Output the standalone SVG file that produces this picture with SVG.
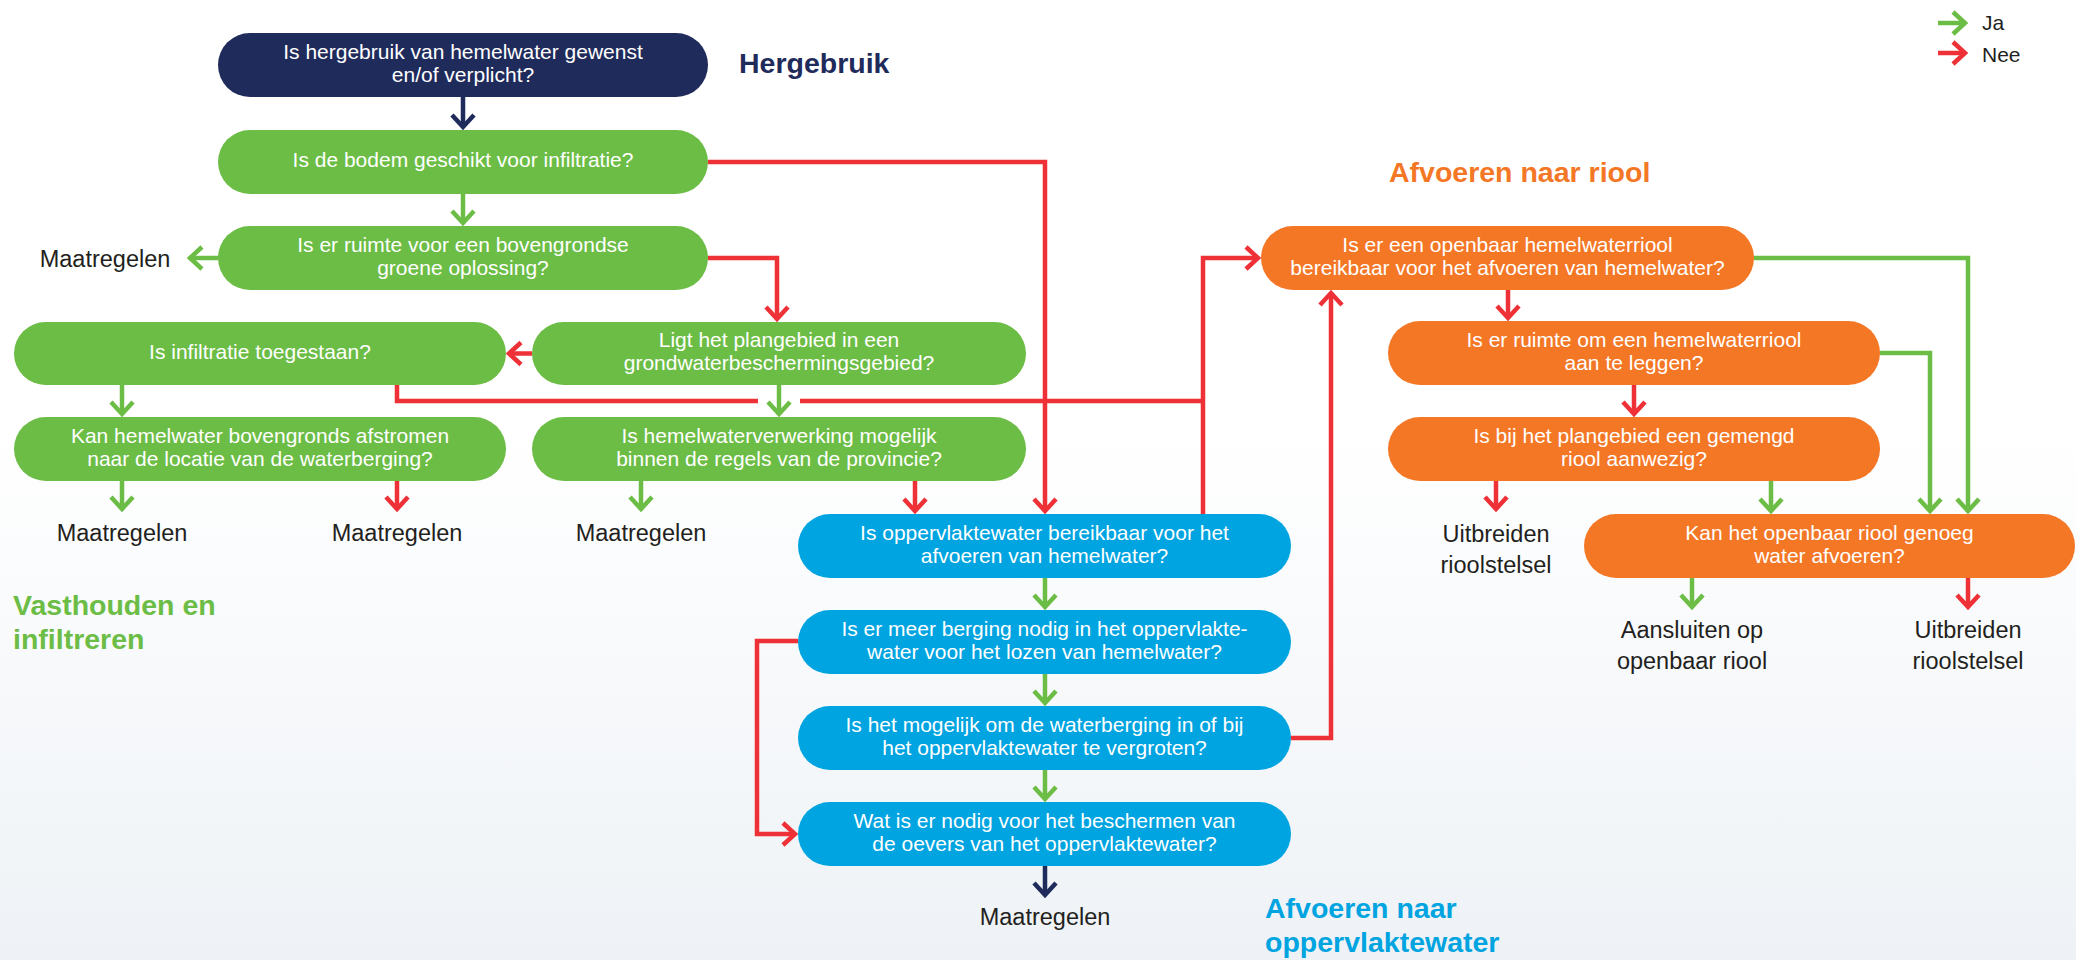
<svg xmlns="http://www.w3.org/2000/svg" width="2076" height="960" viewBox="0 0 2076 960">
<defs>
<style>
.nt{font-family:"Liberation Sans",Arial,sans-serif;font-size:21px;fill:#ffffff;text-anchor:middle}
.lbl{font-family:"Liberation Sans",Arial,sans-serif;font-size:23.5px;fill:#231F20;text-anchor:middle}
.ttl{font-family:"Liberation Sans",Arial,sans-serif;font-size:28.5px;font-weight:bold}
.c{fill:none;stroke-width:4.5;stroke-linejoin:miter}
.g{stroke:#6CBD45}
.r{stroke:#EE3137}
.n{stroke:#1F2B5B}
.fg{fill:#6CBD45}
.fn{fill:#1F2B5B}
.fb{fill:#00A4E0}
.fo{fill:#F47726}
</style>
<linearGradient id="bg" x1="0" y1="0" x2="0" y2="1">
<stop offset="0" stop-color="#ffffff"/>
<stop offset="0.45" stop-color="#ffffff"/>
<stop offset="1" stop-color="#eef2f6"/>
</linearGradient>
<marker id="ag" markerUnits="userSpaceOnUse" viewBox="-20 -20 40 40" markerWidth="40" markerHeight="40" refX="0" refY="0" orient="auto"><path d="M-12,-11 L0,0 L-12,11" fill="none" stroke="#6CBD45" stroke-width="4.5"/></marker>
<marker id="ar" markerUnits="userSpaceOnUse" viewBox="-20 -20 40 40" markerWidth="40" markerHeight="40" refX="0" refY="0" orient="auto"><path d="M-12,-11 L0,0 L-12,11" fill="none" stroke="#EE3137" stroke-width="4.5"/></marker>
<marker id="an" markerUnits="userSpaceOnUse" viewBox="-20 -20 40 40" markerWidth="40" markerHeight="40" refX="0" refY="0" orient="auto"><path d="M-12,-11 L0,0 L-12,11" fill="none" stroke="#1F2B5B" stroke-width="4.5"/></marker>
</defs>
<rect x="0" y="0" width="2076" height="960" fill="url(#bg)"/>

<g id="titles">
<text class="ttl" x="739" y="73" fill="#1F2B5B">Hergebruik</text>
<text class="ttl" x="1389" y="182" fill="#F47726">Afvoeren naar riool</text>
<text class="ttl" x="13" y="615" fill="#6CBD45">Vasthouden en</text>
<text class="ttl" x="13" y="649" fill="#6CBD45">infiltreren</text>
<text class="ttl" x="1265" y="918" fill="#00A4E0">Afvoeren naar</text>
<text class="ttl" x="1265" y="952" fill="#00A4E0">oppervlaktewater</text>
</g>

<g id="legend">
<path class="c g" d="M1938,23 H1965" marker-end="url(#ag)"/>
<path class="c r" d="M1938,53 H1965" marker-end="url(#ar)"/>
<text x="1982" y="30" font-family="Liberation Sans,Arial,sans-serif" font-size="21" fill="#231F20">Ja</text>
<text x="1982" y="62" font-family="Liberation Sans,Arial,sans-serif" font-size="21" fill="#231F20">Nee</text>
</g>

<g id="connectors">
<path class="c n" d="M463,97 V127" marker-end="url(#an)"/>
<path class="c n" d="M1045,866 V895" marker-end="url(#an)"/>
<path class="c g" d="M463,194 V223" marker-end="url(#ag)"/>
<path class="c g" d="M218,258 H190" marker-end="url(#ag)"/>
<path class="c g" d="M122,385 V414" marker-end="url(#ag)"/>
<path class="c g" d="M122,481 V509" marker-end="url(#ag)"/>
<path class="c g" d="M779,385 V414" marker-end="url(#ag)"/>
<path class="c g" d="M641,481 V509" marker-end="url(#ag)"/>
<path class="c g" d="M1045,578 V607" marker-end="url(#ag)"/>
<path class="c g" d="M1045,674 V703" marker-end="url(#ag)"/>
<path class="c g" d="M1045,770 V799" marker-end="url(#ag)"/>
<path class="c g" d="M1754,258 H1968 V511" marker-end="url(#ag)"/>
<path class="c g" d="M1880,353 H1930 V511" marker-end="url(#ag)"/>
<path class="c g" d="M1771,481 V511" marker-end="url(#ag)"/>
<path class="c g" d="M1692,578 V607" marker-end="url(#ag)"/>
<path class="c r" d="M708,162 H1045 V511" marker-end="url(#ar)"/>
<path class="c r" d="M708,258 H777 V319" marker-end="url(#ar)"/>
<path class="c r" d="M532,353.5 H509" marker-end="url(#ar)"/>
<path class="c r" d="M397,385 V401 H758"/>
<path class="c r" d="M800,401 H1203"/>
<path class="c r" d="M397,481 V509" marker-end="url(#ar)"/>
<path class="c r" d="M915,481 V511" marker-end="url(#ar)"/>
<path class="c r" d="M1203,514 V258 H1258" marker-end="url(#ar)"/>
<path class="c r" d="M798,641 H757 V834 H795" marker-end="url(#ar)"/>
<path class="c r" d="M1291,738 H1331 V293" marker-end="url(#ar)"/>
<path class="c r" d="M1508,290 V318" marker-end="url(#ar)"/>
<path class="c r" d="M1634,385 V414" marker-end="url(#ar)"/>
<path class="c r" d="M1496,481 V509" marker-end="url(#ar)"/>
<path class="c r" d="M1968,578 V607" marker-end="url(#ar)"/>
</g>

<g id="n1"><rect class="fn" x="218" y="33" width="490" height="64" rx="32"/><text class="nt" x="463" y="59">Is hergebruik van hemelwater gewenst</text><text class="nt" x="463" y="82">en/of verplicht?</text></g>
<g id="n2"><rect class="fg" x="218" y="130" width="490" height="64" rx="32"/><text class="nt" x="463" y="167">Is de bodem geschikt voor infiltratie?</text></g>
<g id="n3"><rect class="fg" x="218" y="226" width="490" height="64" rx="32"/><text class="nt" x="463" y="252">Is er ruimte voor een bovengrondse</text><text class="nt" x="463" y="275">groene oplossing?</text></g>
<g id="n4"><rect class="fg" x="14" y="322" width="492" height="63" rx="31.5"/><text class="nt" x="260" y="359">Is infiltratie toegestaan?</text></g>
<g id="n5"><rect class="fg" x="532" y="322" width="494" height="63" rx="31.5"/><text class="nt" x="779" y="347">Ligt het plangebied in een</text><text class="nt" x="779" y="370">grondwaterbeschermingsgebied?</text></g>
<g id="n6"><rect class="fg" x="14" y="417" width="492" height="64" rx="32"/><text class="nt" x="260" y="443">Kan hemelwater bovengronds afstromen</text><text class="nt" x="260" y="466">naar de locatie van de waterberging?</text></g>
<g id="n7"><rect class="fg" x="532" y="417" width="494" height="64" rx="32"/><text class="nt" x="779" y="443">Is hemelwaterverwerking mogelijk</text><text class="nt" x="779" y="466">binnen de regels van de provincie?</text></g>
<g id="b1"><rect class="fb" x="798" y="514" width="493" height="64" rx="32"/><text class="nt" x="1044.5" y="540">Is oppervlaktewater bereikbaar voor het</text><text class="nt" x="1044.5" y="563">afvoeren van hemelwater?</text></g>
<g id="b2"><rect class="fb" x="798" y="610" width="493" height="64" rx="32"/><text class="nt" x="1044.5" y="636">Is er meer berging nodig in het oppervlakte-</text><text class="nt" x="1044.5" y="659">water voor het lozen van hemelwater?</text></g>
<g id="b3"><rect class="fb" x="798" y="706" width="493" height="64" rx="32"/><text class="nt" x="1044.5" y="732">Is het mogelijk om de waterberging in of bij</text><text class="nt" x="1044.5" y="755">het oppervlaktewater te vergroten?</text></g>
<g id="b4"><rect class="fb" x="798" y="802" width="493" height="64" rx="32"/><text class="nt" x="1044.5" y="828">Wat is er nodig voor het beschermen van</text><text class="nt" x="1044.5" y="851">de oevers van het oppervlaktewater?</text></g>
<g id="o1"><rect class="fo" x="1261" y="226" width="493" height="64" rx="32"/><text class="nt" x="1507.5" y="252">Is er een openbaar hemelwaterriool</text><text class="nt" x="1507.5" y="275">bereikbaar voor het afvoeren van hemelwater?</text></g>
<g id="o2"><rect class="fo" x="1388" y="321" width="492" height="64" rx="32"/><text class="nt" x="1634" y="347">Is er ruimte om een hemelwaterriool</text><text class="nt" x="1634" y="370">aan te leggen?</text></g>
<g id="o3"><rect class="fo" x="1388" y="417" width="492" height="64" rx="32"/><text class="nt" x="1634" y="443">Is bij het plangebied een gemengd</text><text class="nt" x="1634" y="466">riool aanwezig?</text></g>
<g id="o4"><rect class="fo" x="1584" y="514" width="491" height="64" rx="32"/><text class="nt" x="1829.5" y="540">Kan het openbaar riool genoeg</text><text class="nt" x="1829.5" y="563">water afvoeren?</text></g>

<g id="labels">
<text class="lbl" x="105" y="267">Maatregelen</text>
<text class="lbl" x="122" y="541">Maatregelen</text>
<text class="lbl" x="397" y="541">Maatregelen</text>
<text class="lbl" x="641" y="541">Maatregelen</text>
<text class="lbl" x="1045" y="925">Maatregelen</text>
<text class="lbl" x="1496" y="542">Uitbreiden</text>
<text class="lbl" x="1496" y="573">rioolstelsel</text>
<text class="lbl" x="1692" y="638">Aansluiten op</text>
<text class="lbl" x="1692" y="669">openbaar riool</text>
<text class="lbl" x="1968" y="638">Uitbreiden</text>
<text class="lbl" x="1968" y="669">rioolstelsel</text>
</g>
</svg>
